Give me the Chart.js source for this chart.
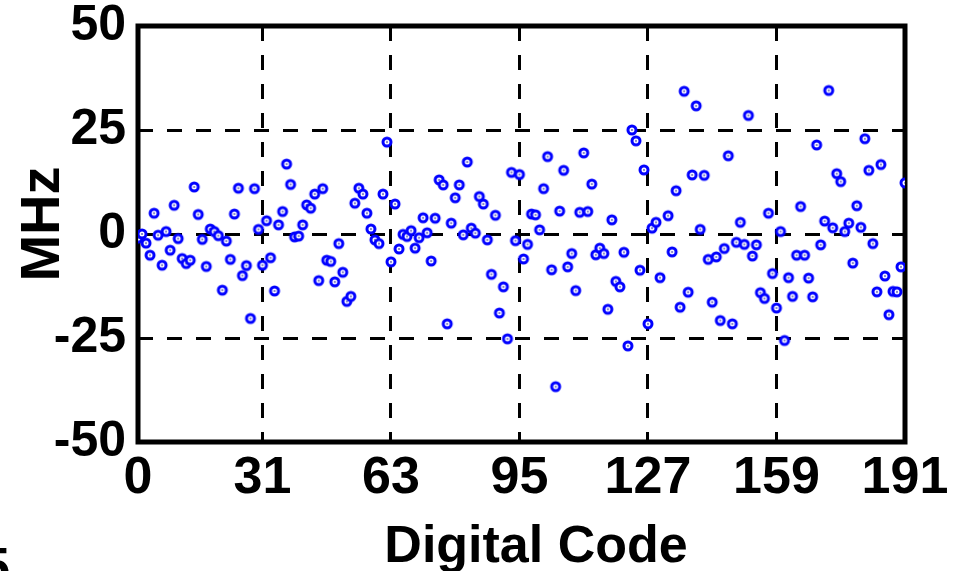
<!DOCTYPE html>
<html>
<head>
<meta charset="utf-8">
<script src="https://cdn.jsdelivr.net/npm/chart.js@4.4.1/dist/chart.umd.min.js"></script>
<style>
  html, body { margin: 0; padding: 0; background: #fff; }
  #wrap { position: relative; width: 953px; height: 571px; overflow: hidden; }
</style>
</head>
<body>
<div id="wrap"><canvas id="chart" width="953" height="571"></canvas></div>
<script>
// Frequency error (MHz) per digital code; code 131 shows no mark
const errorMHz = [
  -1.0, 0.0, -2.2, -5.1, 5.0, -0.3, -7.5, 0.6, -3.9, 6.9,
  -1.1, -5.9, -7.1, -6.3, 11.3, 4.7, -1.3, -7.8, 1.2, 0.6,
  -0.4, -13.5, -1.7, -6.1, 4.8, 11.0, -10.0, -7.6, -20.3, 10.9,
  1.1, -7.5, 3.2, -5.7, -13.7, 2.2, 5.4, 16.8, 11.9, -0.7,
  -0.5, 2.2, 7.0, 6.2, 9.6, -11.2, 10.9, -6.3, -6.6, -11.5,
  -2.3, -9.2, -16.2, -15.0, 7.4, 11.0, 9.6, 5.0, 1.2, -1.4,
  -2.3, 9.6, 22.1, -6.7, 7.2, -3.6, -0.1, -0.6, 0.8, -3.4,
  -0.9, 3.9, 0.3, -6.5, 3.8, 13.0, 11.8, -21.6, 2.6, 8.7,
  11.8, -0.2, 17.3, 1.4, 0.2, 9.0, 7.2, -1.4, -9.7, 4.5,
  -19.0, -12.7, -25.2, 14.8, -1.6, 14.3, -6.0, -2.5, 4.8, 4.6,
  1.0, 10.9, 18.6, -8.6, -36.7, 5.5, 15.3, -7.9, -4.7, -13.6,
  5.2, 19.5, 5.4, 12.0, -5.0, -3.4, -4.7, -18.1, 3.4, -11.4,
  -12.7, -4.4, -26.9, 25.0, 22.4, -8.7, 15.4, -21.6, 1.4, 2.8,
  -10.5, null, 4.4, -4.3, 10.4, -17.6, 34.3, -14.0, 14.2, 30.8,
  1.1, 14.1, -6.1, -16.4, -5.5, -20.8, -3.5, 18.8, -21.6, -2.0,
  2.8, -2.5, 28.5, -5.3, -2.6, -14.1, -15.5, 5.0, -9.5, -17.8,
  0.6, -25.6, -10.5, -15.0, -5.1, 6.6, -5.1, -10.6, -15.1, 21.4,
  -2.6, 3.1, 34.5, 1.5, 14.5, 12.6, 0.6, 2.6, -7.0, 6.8,
  1.6, 22.9, 15.3, -2.3, -13.9, 16.7, -10.1, -19.4, -13.8, -13.9,
  -7.9, 12.3
];

const xTicks = [0, 31, 63, 95, 127, 159, 191];
const yTicks = [-50, -25, 0, 25, 50];

const xTitle = 'Digital Code';
const yTitle = 'MHz';
const cornerLabel = '5';

const FONT = '"Liberation Sans", Arial, sans-serif';

// ring marker with a small centre dot
const makeMarker = () => {
  const c = document.createElement('canvas');
  c.width = 14; c.height = 14;
  const g = c.getContext('2d');
  g.beginPath();
  g.arc(7, 7, 4, 0, Math.PI * 2);
  g.fillStyle = '#fff';
  g.fill();
  g.lineWidth = 3;
  g.strokeStyle = '#0000ff';
  g.stroke();
  g.fillStyle = '#3030a0';
  g.fillRect(6.25, 6.25, 1.5, 1.5);
  return c;
};

// thick black box round the plot area, axis titles and the clipped corner label
const framePlugin = {
  id: 'frame',
  beforeDatasetsDraw(chart) {
    const { ctx, chartArea: a } = chart;
    ctx.save();
    ctx.lineWidth = 5;
    ctx.strokeStyle = '#000';
    ctx.strokeRect(a.left, a.top, a.right - a.left, a.bottom - a.top);
    ctx.restore();
  },
  afterDraw(chart) {
    const { ctx } = chart;
    ctx.save();
    ctx.fillStyle = '#000';
    ctx.textBaseline = 'alphabetic';

    ctx.font = 'bold 52px ' + FONT;
    ctx.textAlign = 'center';
    ctx.fillText(xTitle, 536, 562);

    ctx.save();
    ctx.font = 'bold 56px ' + FONT;
    ctx.translate(59, 224);
    ctx.rotate(-Math.PI / 2);
    ctx.fillText(yTitle, 0, 0);
    ctx.restore();

    ctx.font = 'bold 52px ' + FONT;
    ctx.textAlign = 'left';
    ctx.fillText(cornerLabel, -19, 584);
    ctx.restore();
  }
};

const points = errorMHz.map((v, i) => ({ x: i, y: v }));

new Chart(document.getElementById('chart'), {
  type: 'scatter',
  data: {
    datasets: [{
      data: points,
      pointStyle: makeMarker(),
      pointRadius: 5,
      pointHoverRadius: 5
    }]
  },
  options: {
    responsive: false,
    animation: false,
    devicePixelRatio: 1,
    layout: { padding: { left: 0, top: 26, right: 48, bottom: 0 } },
    plugins: { legend: { display: false }, tooltip: { enabled: false } },
    scales: {
      x: {
        type: 'linear',
        min: 0,
        max: 191,
        afterBuildTicks: s => { s.ticks = xTicks.map(v => ({ value: v })); },
        afterFit: s => { s.height = 129; s.paddingLeft = 0; s.paddingRight = 0; },
        grid: { color: '#000', lineWidth: 3, drawTicks: false },
        border: { display: false, dash: [15, 14] },
        ticks: {
          color: '#000',
          padding: 5,
          maxRotation: 0,
          autoSkip: false,
          font: { family: FONT, size: 52, weight: 'bold' }
        }
      },
      y: {
        min: -50,
        max: 50,
        afterBuildTicks: s => { s.ticks = yTicks.map(v => ({ value: v })); },
        afterFit: s => { s.width = 138; s.paddingTop = 0; s.paddingBottom = 0; },
        grid: { color: '#000', lineWidth: 3, drawTicks: false },
        border: { display: false, dash: [15, 14] },
        ticks: {
          color: '#000',
          padding: 12,
          font: { family: FONT, size: 50, weight: 'bold' }
        }
      }
    }
  },
  plugins: [framePlugin]
});
</script>
</body>
</html>
